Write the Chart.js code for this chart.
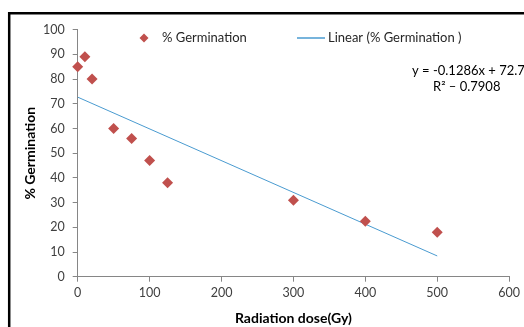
<!DOCTYPE html>
<html><head><meta charset="utf-8">
<script src="https://cdn.jsdelivr.net/npm/chart.js@4"></script>
<style>html,body{margin:0;padding:0;background:#fff}#wrap{width:524px;height:327px;position:relative}</style>
</head><body><div id="wrap"><canvas id="c" width="524" height="327"></canvas></div>
<script>
const doses = [0, 10, 20, 50, 75, 100, 125, 300, 400, 500];
const germination = [85, 89, 80, 60, 56, 47, 38, 31, 22.5, 18];
const trendX = [0, 500];
const slope = -0.1286;
const intercept = 72.7;
const rSquared = 0.7908;
const xTicks = [0, 100, 200, 300, 400, 500, 600];
const yTicks = [0, 10, 20, 30, 40, 50, 60, 70, 80, 90, 100];
const seriesLabel = '% Germination';
const trendLabel = 'Linear (% Germination )';
const xTitle = 'Radiation dose(Gy)';
const yTitle = '% Germination';

const FONT = 'Lato, "Open Sans", sans-serif';
const RED = '#C0504D';
const BLUE = '#4A9BD0';

const decor = {
  id: 'decor',
  afterDraw(chart) {
    const ctx = chart.ctx;
    ctx.save();
    ctx.strokeStyle = '#000';
    ctx.lineWidth = 2.5;
    ctx.beginPath();
    ctx.moveTo(9.2, 327);
    ctx.lineTo(9.2, 13.2);
    ctx.lineTo(524, 13.2);
    ctx.stroke();
    ctx.fillStyle = RED;
    const lx = 144, ly = 38;
    ctx.beginPath();
    ctx.moveTo(lx, ly - 4.5); ctx.lineTo(lx + 4.5, ly); ctx.lineTo(lx, ly + 4.5); ctx.lineTo(lx - 4.5, ly); ctx.closePath();
    ctx.fill();
    ctx.font = '13px ' + FONT;
    ctx.fillStyle = '#262626';
    ctx.textBaseline = 'middle';
    ctx.textAlign = 'left';
    ctx.fillText(seriesLabel, 162, ly);
    ctx.strokeStyle = BLUE;
    ctx.lineWidth = 1.5;
    ctx.beginPath(); ctx.moveTo(297, ly); ctx.lineTo(325, ly); ctx.stroke();
    ctx.fillText(trendLabel, 328, ly);
    ctx.font = '13px ' + FONT;
    ctx.fillStyle = '#000';
    ctx.fillText('y = ' + slope + 'x + ' + intercept, 412, 71);
    ctx.fillText('R\u00B2 \u2013 ' + rSquared, 433, 87);
    ctx.restore();
  }
};

new Chart(document.getElementById('c'), {
  type: 'scatter',
  data: {
    datasets: [
      {
        label: seriesLabel,
        data: doses.map((d, i) => ({ x: d, y: germination[i] })),
        pointStyle: 'rectRot',
        pointRadius: 5.5,
        pointBackgroundColor: RED,
        pointBorderColor: RED,
        pointBorderWidth: 0,
        clip: false,
        order: 1
      },
      {
        type: 'line',
        label: trendLabel,
        data: trendX.map(x => ({ x: x, y: intercept + slope * x })),
        borderColor: BLUE,
        borderWidth: 1,
        pointRadius: 0,
        fill: false,
        order: 2
      }
    ]
  },
  options: {
    responsive: false,
    animation: false,
    events: [],
    layout: { padding: { left: 10, right: 8, top: 29.7, bottom: 0 } },
    plugins: { legend: { display: false }, tooltip: { enabled: false } },
    scales: {
      x: {
        type: 'linear', min: 0, max: 600,
        afterBuildTicks(s) { s.ticks = xTicks.map(v => ({ value: v })); },
        afterFit(s) { s.height = 327 - 276.7; },
        grid: { display: true, drawOnChartArea: false, tickLength: 5, color: '#868686' },
        border: { display: true, color: '#868686', width: 1 },
        ticks: { color: '#404040', font: { family: FONT, size: 12.5 }, padding: 4, maxRotation: 0 },
        title: { display: true, text: xTitle, color: '#000', font: { family: FONT, size: 14, weight: 'bold' }, padding: { top: 3, bottom: 0 } }
      },
      y: {
        type: 'linear', min: 0, max: 100,
        afterBuildTicks(s) { s.ticks = yTicks.map(v => ({ value: v })); },
        afterFit(s) { s.width = 77.7 - 10; },
        grid: { display: true, drawOnChartArea: false, tickLength: 5, color: '#868686' },
        border: { display: true, color: '#868686', width: 1 },
        ticks: { color: '#404040', font: { family: FONT, size: 12.5 }, padding: 8 },
        title: { display: true, text: yTitle, color: '#000', font: { family: FONT, size: 14, weight: 'bold' }, padding: { top: 12, bottom: 0 } }
      }
    }
  },
  plugins: [decor]
});
</script></body></html>
